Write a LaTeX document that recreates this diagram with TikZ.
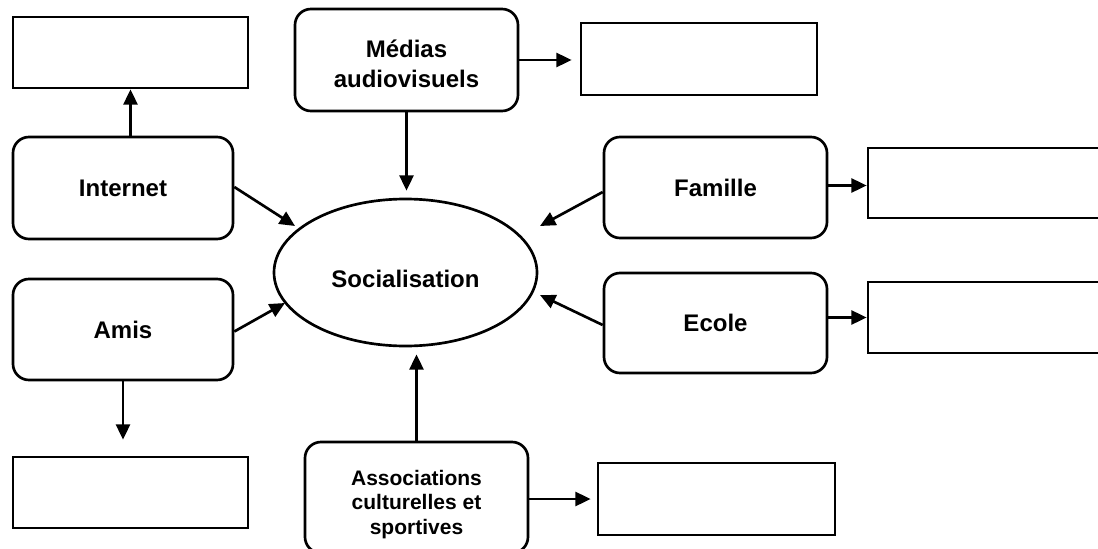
\documentclass[tikz,border=0pt]{standalone}
\usepackage{fontspec}
\setmainfont{Liberation Sans}
\usetikzlibrary{arrows.meta,shapes.geometric}
\begin{document}
\begin{tikzpicture}[x=0.75pt,y=-0.75pt,
  emptybox/.style={draw,line width=2pt,rectangle,inner sep=0pt},
  roundbox/.style={draw,line width=2pt,rectangle,rounded corners=12pt,inner sep=2pt,align=center,font=\fontsize{18}{22.5}\selectfont\bfseries},
  ellbox/.style={draw,line width=2pt,ellipse,inner sep=0pt,font=\fontsize{18}{22.5}\selectfont\bfseries},
  arr/.style={line width=2pt,-{Triangle[length=11.5pt,width=10.5pt]}}]
\useasboundingbox (0,0) rectangle (1098,549);
\clip (0,0) rectangle (1098,549);
\fill[white] (0,0) rectangle (1098,549);
% empty boxes
\node[emptybox,minimum width=176.25pt,minimum height=53.25pt] (tl) at (130.5,52.5) {};
\node[emptybox,minimum width=177pt,minimum height=54pt] (tr) at (699,59) {};
\node[emptybox,minimum width=181.5pt,minimum height=52.5pt] (rtwo) at (989,183) {};
\node[emptybox,minimum width=181.5pt,minimum height=53.25pt] (rthree) at (989,317.5) {};
\node[emptybox,minimum width=176.25pt,minimum height=53.25pt] (bl) at (130.5,492.5) {};
\node[emptybox,minimum width=177.75pt,minimum height=54pt] (br) at (716.5,499) {};
% rounded boxes
\node[roundbox,minimum width=167.25pt,minimum height=76.5pt,text height=41.5pt,text depth=0pt] (medias) at (406.5,60) {Médias\\audiovisuels};
\node[roundbox,minimum width=165pt,minimum height=76.5pt] (internet) at (123,188) {Internet};
\node[roundbox,minimum width=167.25pt,minimum height=75.75pt] (famille) at (715.5,187.5) {Famille};
\node[roundbox,minimum width=165pt,minimum height=75.75pt] (amis) at (123,329.5) {Amis};
\node[roundbox,minimum width=167.25pt,minimum height=75pt] (ecole) at (715.5,323) {Ecole};
\node[roundbox,minimum width=167.25pt,minimum height=83.25pt,text height=55.5pt,text depth=0pt,font=\fontsize{15.75}{18.5}\selectfont\bfseries] (asso) at (416.5,497.5) {Associations\\culturelles et\\sportives};
% central ellipse
\node[ellbox,minimum width=197.25pt,minimum height=110.25pt,text height=22pt] (soc) at (405.5,272.5) {Socialisation};
% free arrow ends
\coordinate (tipI) at (295,226);
\coordinate (tipA) at (285,303);
\coordinate (tipF) at (540,226);
\coordinate (tipE) at (540,295);
% connectors
\draw[arr] (tl.south |- internet.north) -- (tl.south);
\draw[arr,shorten >=5.25pt] (medias.south) -- (medias.south |- soc.north);
\draw[arr,shorten >=6pt] (medias.east) -- (medias.east -| tr.west);
\draw[arr] ([yshift=0.75pt]internet.east) -- (tipI);
\draw[arr] ([yshift=-1.5pt]amis.east) -- (tipA);
\draw[arr] ([yshift=-3.4pt]famille.west) -- (tipF);
\draw[arr] ([yshift=-1.5pt]ecole.west) -- (tipE);
\draw[arr] ([yshift=1.5pt]famille.east) -- ([yshift=1.5pt]famille.east -| rtwo.west);
\draw[arr] (rthree.west -| ecole.east) -- (rthree.west);
\draw[arr,shorten >=12pt] (amis.south) -- (amis.south |- bl.north);
\draw[arr,shorten >=5.25pt] (asso.north) -- (asso.north |- soc.south);
\draw[arr,shorten >=4.5pt] (br.west -| asso.east) -- (br.west);
\end{tikzpicture}
\end{document}
